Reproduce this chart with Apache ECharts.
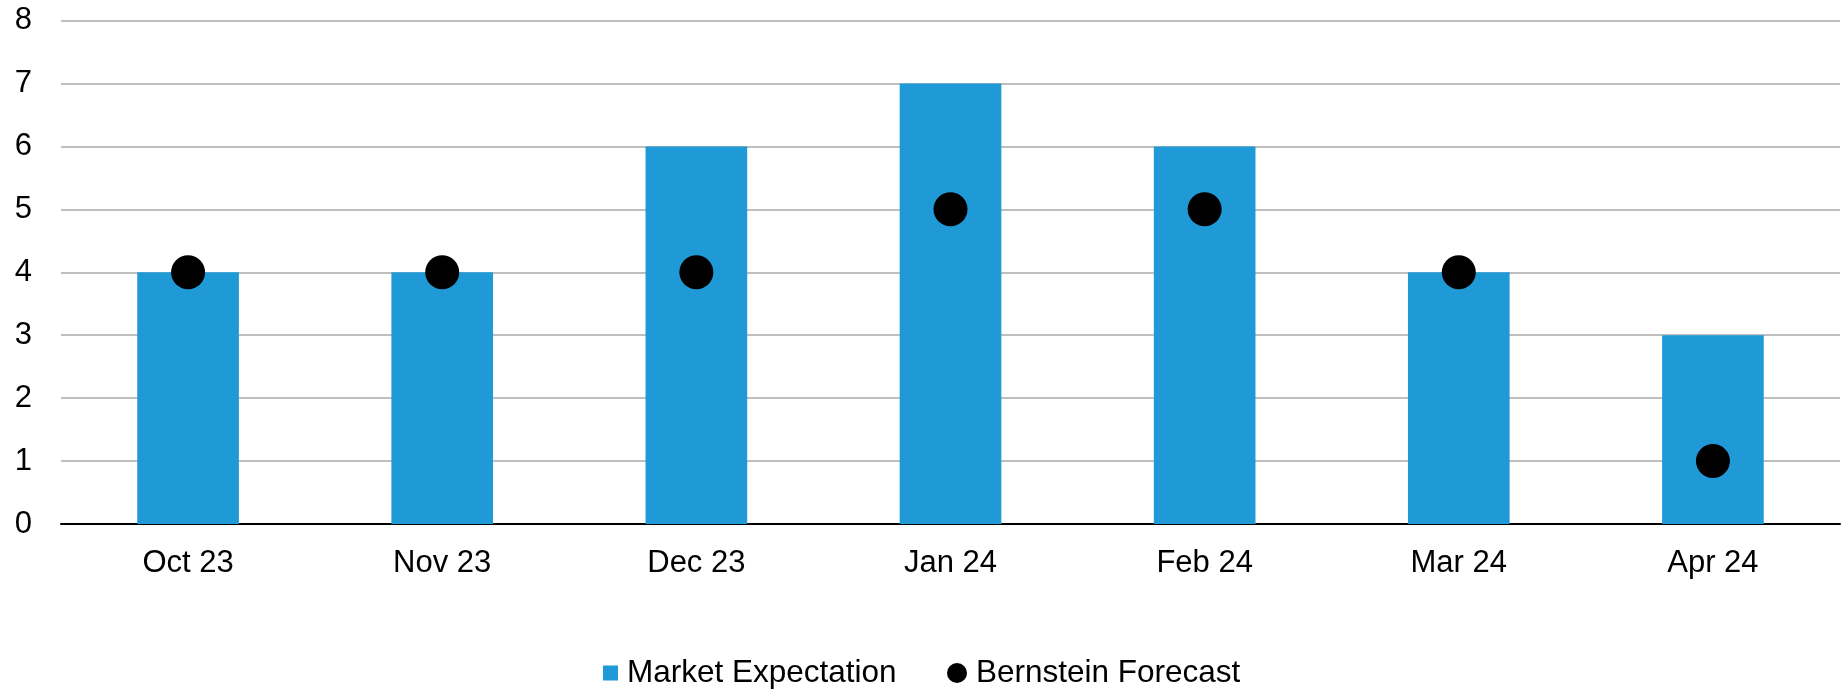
<!DOCTYPE html>
<html><head><meta charset="utf-8">
<script src="https://cdn.jsdelivr.net/npm/echarts@6/dist/echarts.min.js"></script>
<style>html,body{margin:0;padding:0;background:#fff}#c{width:1842px;height:689px}</style>
</head><body><div id="c"></div>
<script>
const categories = ['Oct 23','Nov 23','Dec 23','Jan 24','Feb 24','Mar 24','Apr 24'];
const marketExpectation = [4,4,6,7,6,4,3];
const bernsteinForecast = [4,4,4,5,5,4,1];
const yTicks = [0,1,2,3,4,5,6,7,8];

const FONT = "'Liberation Sans', Arial, sans-serif";
const chart = echarts.init(document.getElementById('c'), null, {renderer:'canvas'});
const legendText = {fontFamily:FONT,fontSize:31.5,color:'#000',padding:[0,0,0,4]};
chart.setOption({
  animation:false,
  backgroundColor:'#fff',
  textStyle:{fontFamily:FONT},
  grid:{left:61,right:2,top:20.5,bottom:165,containLabel:false},
  legend:[{
    left:603, top:657, padding:0,
    itemWidth:15, itemHeight:15,
    textStyle:legendText,
    data:[{name:'Market Expectation',icon:'rect'}]
  },{
    left:947, top:657, padding:0,
    itemWidth:20, itemHeight:20,
    textStyle:legendText,
    data:[{name:'Bernstein Forecast',icon:'circle'}]
  }],
  xAxis:{
    type:'category', data:categories,
    axisLine:{lineStyle:{color:'#000',width:2}},
    axisTick:{show:false},
    axisLabel:{color:'#000',fontSize:31,fontFamily:FONT,margin:24}
  },
  yAxis:{
    type:'value', min:yTicks[0], max:yTicks[yTicks.length-1], interval:1,
    axisLine:{show:false}, axisTick:{show:false},
    axisLabel:{color:'#000',fontSize:31,fontFamily:FONT,margin:29},
    splitLine:{lineStyle:{color:'#bfbfbf',width:2}}
  },
  series:[
    {name:'Market Expectation',type:'bar',data:marketExpectation,barWidth:'40%',
     itemStyle:{color:'#1f9ad6'}},
    {name:'Bernstein Forecast',type:'scatter',data:bernsteinForecast,symbol:'circle',symbolSize:34,
     itemStyle:{color:'#000',opacity:1},z:5}
  ]
});
</script></body></html>
